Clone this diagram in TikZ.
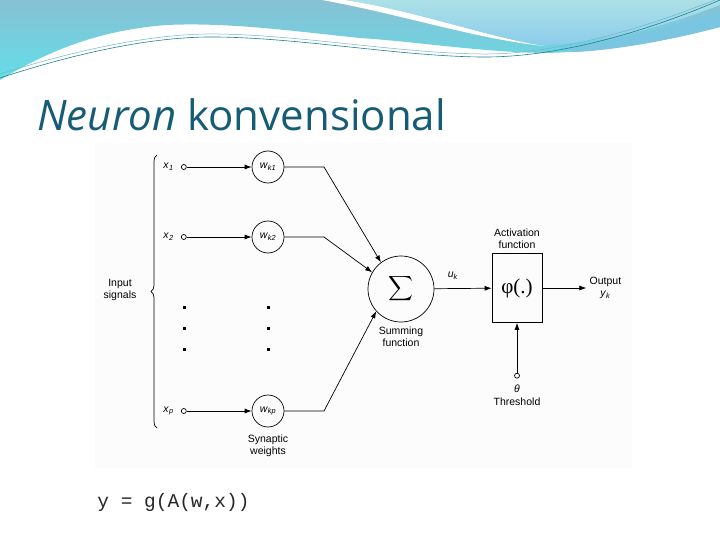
\documentclass[tikz,border=0pt]{standalone}
\usepackage{amsmath}
\usepackage{fontspec}
\setmainfont{Liberation Sans}
\setmonofont{Liberation Mono}
\newfontfamily\titlefont{Open Sans}
\newfontfamily\phifont{Liberation Serif}
\usetikzlibrary{arrows.meta,positioning,calc,decorations.pathreplacing}

\definecolor{hdrblue}{RGB}{136,192,212}
\definecolor{hdrcyan}{RGB}{98,222,232}
\definecolor{hdrlight}{RGB}{172,224,232}
\definecolor{hdrsky}{RGB}{140,205,235}
\definecolor{hdrdeep}{RGB}{78,178,212}
\definecolor{hdrline}{RGB}{30,128,150}
\definecolor{titleteal}{RGB}{22,92,118}

\newcommand{\sublbl}[2]{\textit{#1}\textsubscript{\textit{#2}}}

\begin{document}
\begin{tikzpicture}[x=1pt,y=-1pt,
      font=\fontsize{10.5}{12.5}\selectfont,node distance=10pt,line width=0.7pt,
      wcirc/.style={draw,circle,minimum size=32pt,inner sep=0pt},
      sumcirc/.style={draw,circle,minimum size=66pt,inner sep=0pt},
      actbox/.style={draw,minimum width=50pt,minimum height=69pt,inner sep=0pt},
      port/.style={draw,circle,minimum size=5pt,inner sep=0pt,fill=white},
      lbl/.style={align=center,inner sep=1pt},
      arr/.style={-{Latex[length=7pt,width=5pt]}}]
    \useasboundingbox (0,0) rectangle (720,540);
    % header waves
    \shade[top color=hdrblue,bottom color=hdrcyan]
      (0,0) -- (720,0) -- (720,27) .. controls (660,42) and (600,52) .. (545,53)
      .. controls (480,52) and (420,42) .. (360,38)
      .. controls (300,32) and (230,22) .. (167,25)
      .. controls (100,30) and (50,50) .. (0,80) -- cycle;
    \shade[top color=hdrlight,bottom color=hdrsky]
      (345,0) .. controls (420,12) and (490,38) .. (545,45)
      .. controls (620,42) and (680,20) .. (720,5) -- (720,0) -- cycle;
    \fill[white] (322,0) .. controls (400,14) and (480,40) .. (545,46)
      .. controls (490,38) and (420,12) .. (345,0) -- cycle;
    \fill[hdrdeep!75] (560,48) .. controls (630,40) and (690,20) .. (720,12)
      -- (720,27) .. controls (680,38) and (620,50) .. (575,52) -- cycle;
    \draw[hdrline,line width=0.6pt] (0,78) .. controls (70,55) and (150,36) .. (217,37)
      .. controls (300,38) and (400,56) .. (480,57) .. controls (560,58) and (650,30) .. (720,0);
    \draw[hdrline!60,line width=0.5pt] (0,74) .. controls (70,52) and (150,33) .. (217,34)
      .. controls (300,35) and (400,53) .. (480,54) .. controls (560,55) and (650,26) .. (720,-2);
    % title and formula
    \node[anchor=base west,inner sep=0pt,text=titleteal,
          font=\titlefont\fontsize{42}{44}\selectfont] (title) at (37,131)
      {\textit{Neuron} konvensional};
    \fill[gray!2] (95,143) rectangle (632,468);
    \node[anchor=base west,inner sep=0pt,text=black!85,
          font=\ttfamily\fontsize{19.5}{22}\selectfont] (formula) at (97,507)
      {y = g(A(w,x))};
    % weights and inputs
    \node[wcirc] (w1) at (268,167) {\sublbl{w}{k1}};
    \node[wcirc] (w2) at (268,237) {\sublbl{w}{k2}};
    \node[wcirc] (wp) at (268,411) {\sublbl{w}{kp}};
    \node[port,left=65pt of w1] (x1) {};
    \node[port,left=65pt of w2] (x2) {};
    \node[port,left=65pt of wp] (xp) {};
    \node[left=7pt of x1,inner sep=0pt] (x1lbl) {\sublbl{x}{1}};
    \node[left=7pt of x2,inner sep=0pt] (x2lbl) {\sublbl{x}{2}};
    \node[left=7pt of xp,inner sep=0pt] (xplbl) {\sublbl{x}{p}};
    \node[lbl] (inlbl) at (120,290) {Input\\signals};
    \draw[decorate,decoration={brace,amplitude=6pt}] (157,428) -- (157,155);
    \foreach \xx in {184,268} \foreach \yy in {307,328,349}
      \fill (\xx-1.5,\yy-1.5) rectangle ++(3,3);
    \node[lbl,below=6pt of wp] (synlbl) {Synaptic\\weights};
    % summing junction and activation
    \node[sumcirc] (sum) at (401,289) {\fontsize{17}{20}\selectfont$\displaystyle\sum$};
    \node[lbl,below=3pt of sum] (sumlbl) {Summing\\function};
    \node (uk) at (453,276) {\sublbl{u}{k}};
    \node[actbox] (act) at (517,288) {\phifont\fontsize{21}{22}\selectfont φ(.)};
    \node[lbl,above=3pt of act] (actlbl) {Activation\\function};
    \coordinate[right=44pt of act] (out);
    \node[lbl,right=2pt of out] (outlbl) {Output\\\sublbl{y}{k}};
    \node[port,below=50pt of act] (thr) {};
    \node[lbl,below=5pt of thr] (thrlbl) {\textit{θ}\\Threshold};
    \coordinate (b1) at ($(w1.center)+(56,0)$);
    \coordinate (b2) at ($(w2.center)+(56,0)$);
    \coordinate (bp) at ($(wp.center)+(56,0)$);
    \draw[arr] (x1) -- (w1);
    \draw[arr] (x2) -- (w2);
    \draw[arr] (xp) -- (wp);
    \draw[arr] (w1) -- (b1) -- (sum.127);
    \draw[arr] (w2) -- (b2) -- (sum.150);
    \draw[arr] (wp) -- (bp) -- (sum.222);
    \draw[arr] (sum) -- (act);
    \draw[arr] (act) -- (out);
    \draw[arr] (thr) -- (act);
  \end{tikzpicture}
\end{document}
